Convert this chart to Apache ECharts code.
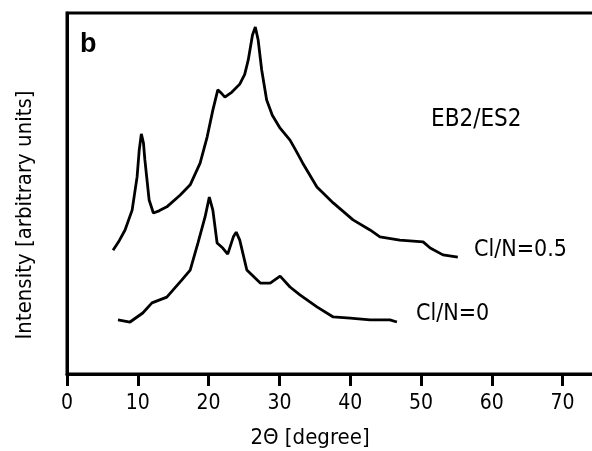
<!DOCTYPE html>
<html>
<head>
<meta charset="utf-8">
<style>html,body{margin:0;padding:0;background:#fff}#c{width:592px;height:451px}</style>
<script src="https://cdn.jsdelivr.net/npm/echarts@6/dist/echarts.min.js"></script>
</head>
<body>
<div id="c"></div>
<script>
// 2-theta values and intensities (arbitrary units)
var xTicks = [0, 10, 20, 30, 40, 50, 60, 70];
var theta05 = [6.5, 7.4, 8.2, 9.2, 9.9, 10.2, 10.5, 10.8, 11.0, 11.6, 12.2, 13.0, 14.1, 16.0, 17.4, 18.8, 19.8, 20.6, 21.3, 21.7, 22.3, 23.3, 24.4, 25.1, 25.6, 26.2, 26.6, 27.0, 27.5, 28.2, 29.0, 30.1, 31.5, 32.3, 33.3, 35.3, 37.6, 40.4, 42.8, 44.2, 47.0, 50.3, 51.3, 53.1, 55.2];
var int05 = [34.3, 37.0, 39.9, 45.4, 54.6, 62.0, 66.5, 64.0, 59.3, 48.2, 44.6, 45.2, 46.3, 49.6, 52.4, 58.4, 65.7, 73.1, 78.7, 78.0, 76.7, 78.1, 80.3, 83.0, 87.0, 93.9, 96.1, 92.5, 84.2, 75.9, 71.7, 68.1, 64.8, 62.0, 58.4, 51.8, 47.4, 42.7, 39.9, 38.0, 37.1, 36.6, 34.9, 33.0, 32.4];
var theta0 = [7.2, 8.9, 10.7, 12.0, 14.1, 16.2, 17.4, 18.5, 19.5, 20.1, 20.6, 21.2, 22.0, 22.7, 23.5, 23.9, 24.4, 25.4, 27.3, 28.7, 30.1, 31.5, 32.9, 35.3, 37.6, 40.0, 42.8, 45.6, 46.6];
var int0 = [15.0, 14.4, 16.9, 19.7, 21.3, 26.0, 28.8, 36.3, 43.5, 49.0, 45.4, 36.3, 34.9, 33.2, 38.0, 39.3, 37.1, 28.8, 25.2, 25.2, 27.1, 24.1, 21.9, 18.6, 15.8, 15.5, 15.0, 15.0, 14.4];

function pairs(xs, ys) { return xs.map(function (x, i) { return [x, ys[i]]; }); }

var FONT = '"DejaVu Sans Condensed","DejaVu Sans",sans-serif';
var chart = echarts.init(document.getElementById('c'), null, {renderer: 'canvas'});
chart.setOption({
  animation: false,
  backgroundColor: '#fff',
  grid: {left: 67, top: 13, width: 531, bottom: 77, show: true, borderColor: '#000', borderWidth: 3,
         backgroundColor: 'transparent', outerBoundsMode: 'none', containLabel: false},
  xAxis: {
    type: 'value', min: 0, max: 75, interval: 10,
    axisLine: {show: true, lineStyle: {color: '#000', width: 3}},
    axisTick: {show: true, length: 12, lineStyle: {color: '#000', width: 3}},
    splitLine: {show: false},
    axisLabel: {
      color: '#000', fontSize: 21, fontFamily: FONT, margin: 19,
      formatter: function (v) { return xTicks.indexOf(v) >= 0 ? String(v) : ''; }
    }
  },
  yAxis: {
    type: 'value', min: 0, max: 100,
    axisLine: {show: true, lineStyle: {color: '#000', width: 3}},
    axisTick: {show: false}, axisLabel: {show: false}, splitLine: {show: false}
  },
  series: [
    {type: 'line', data: pairs(theta05, int05), showSymbol: false, symbol: 'none',
     lineStyle: {color: '#000', width: 2.8}},
    {type: 'line', data: pairs(theta0, int0), showSymbol: false, symbol: 'none',
     lineStyle: {color: '#000', width: 2.8}}
  ],
  graphic: [
    {type: 'text', left: 80, top: 31, style: {text: 'b', font: 'bold 27px "Liberation Sans",sans-serif', fill: '#000'}},
    {type: 'text', left: 431, top: 108, style: {text: 'EB2/ES2', font: '24px ' + FONT, fill: '#000'}},
    {type: 'text', left: 474, top: 239, style: {text: 'Cl/N=0.5', font: '23px ' + FONT, fill: '#000'}},
    {type: 'text', left: 416, top: 303, style: {text: 'Cl/N=0', font: '23px ' + FONT, fill: '#000'}},
    {type: 'text', x: 310, y: 438, style: {text: '2Θ [degree]', font: '22px ' + FONT, fill: '#000', align: 'center', verticalAlign: 'middle'}},
    {type: 'text', x: 25, y: 215, rotation: Math.PI / 2, style: {text: 'Intensity [arbitrary units]', font: '22px ' + FONT, fill: '#000', align: 'center', verticalAlign: 'middle'}}
  ]
});
</script>
</body>
</html>
